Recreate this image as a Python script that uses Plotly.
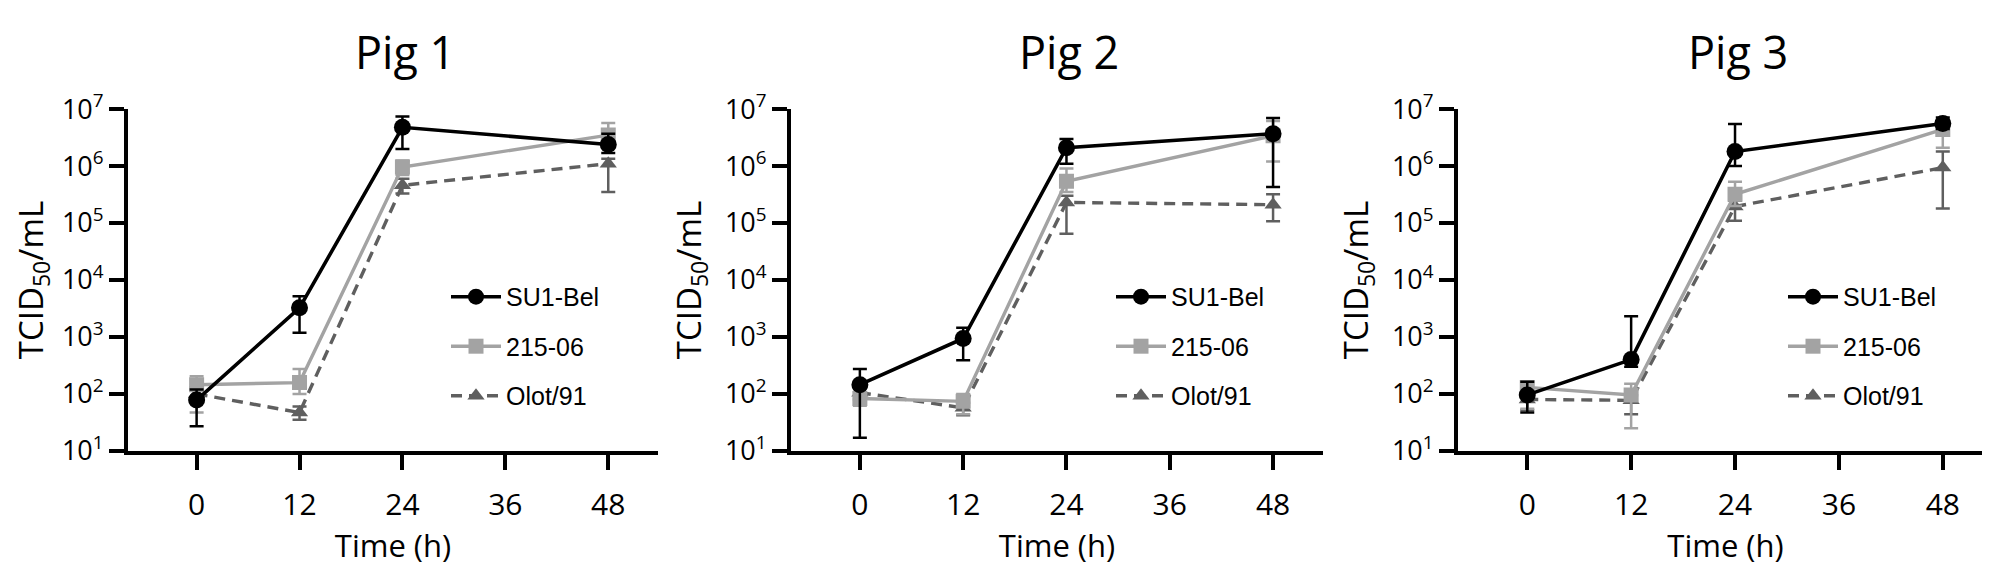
import plotly.graph_objects as go
from plotly.subplots import make_subplots

# sampling times (h)
times = [0, 12, 24, 48]

pigs = ["Pig 1", "Pig 2", "Pig 3"]
strains = ["SU1-Bel", "215-06", "Olot/91"]

# TCID50/mL, mean and error bar ends, per pig
su1_mean = [[78, 3250, 4.8e6, 2.4e6],
            [145, 940, 2.1e6, 3.7e6],
            [96, 400, 1.8e6, 5.6e6]]
su1_hi = [[120, 5200, 7.4e6, 3.7e6],
          [275, 1450, 3.0e6, 7.0e6],
          [163, 2300, 5.5e6, 7.1e6]]
su1_lo = [[27, 1180, 2.0e6, 1.7e6],
          [17, 390, 1.1e6, 4.3e5],
          [47, 300, 1.0e6, 4.5e6]]

s215_mean = [[145, 158, 9.6e5, 3.5e6],
             [83, 74, 5.4e5, 3.4e6],
             [130, 96, 3.2e5, 4.4e6]]
s215_hi = [[205, 275, 1.26e6, 5.7e6],
           [108, 100, 9.1e5, 6.2e6],
           [160, 150, 5.3e5, 6.0e6]]
s215_lo = [[47, 100, 7.0e5, 2.2e6],
           [62, 44, 3.5e5, 1.2e6],
           [55, 25, 2.0e5, 2.1e6]]

olot_mean = [[100, 47, 4.6e5, 1.1e6],
             [105, 57, 2.3e5, 2.1e5],
             [80, 77, 1.95e5, 9.4e5]]
olot_hi = [[130, 60, 6.0e5, 1.35e6],
           [125, 70, 3.0e5, 3.2e5],
           [100, 95, 2.5e5, 1.8e6]]
olot_lo = [[75, 35, 3.3e5, 3.5e5],
           [80, 42, 6.5e4, 1.07e5],
           [52, 44, 1.1e5, 1.8e5]]

ytick_vals = [1e1, 1e2, 1e3, 1e4, 1e5, 1e6, 1e7]
ytick_text = ["10<sup>%d</sup>" % i for i in range(1, 8)]
xtick_vals = [0, 12, 24, 36, 48]

W, H = 1990, 566
# left / right pixel edge of each panel's axes
panel_px = [(120, 650), (783, 1315), (1450, 1985)]
y_top_px, y_bot_px = 85, 452
legend_px = [438, 1103, 1775]

fig = make_subplots(rows=1, cols=3)

styles = {
    "SU1-Bel": dict(color="#000000", symbol="circle", size=17, dash="solid", lw=3.6, rank=1),
    "215-06": dict(color="#a3a3a3", symbol="square", size=15, dash="solid", lw=3.4, rank=2),
    "Olot/91": dict(color="#5f5f5f", symbol="triangle-up", size=15, dash="11px,7px", lw=3.4, rank=3),
}

for p in range(3):
    data = {
        "SU1-Bel": (su1_mean[p], su1_hi[p], su1_lo[p]),
        "215-06": (s215_mean[p], s215_hi[p], s215_lo[p]),
        "Olot/91": (olot_mean[p], olot_hi[p], olot_lo[p]),
    }
    leg = "legend" if p == 0 else "legend%d" % (p + 1)
    # draw dark strain last so it is on top
    for name in ["Olot/91", "215-06", "SU1-Bel"]:
        m, hi, lo = data[name]
        st = styles[name]
        fig.add_trace(
            go.Scatter(
                x=times,
                y=m,
                name=name,
                mode="lines+markers",
                line=dict(color=st["color"], width=st["lw"], dash=st["dash"]),
                marker=dict(color=st["color"], symbol=st["symbol"], size=st["size"]),
                error_y=dict(
                    type="data",
                    symmetric=False,
                    array=[h - v for h, v in zip(hi, m)],
                    arrayminus=[v - l for v, l in zip(m, lo)],
                    color=st["color"],
                    thickness=2.5,
                    width=7,
                ),
                legend=leg,
                legendgroup=name + str(p),
                legendrank=st["rank"],
            ),
            row=1,
            col=p + 1,
        )

    x0, x1 = panel_px[p]
    fig.update_xaxes(
        domain=[x0 / W, x1 / W],
        range=[-8, 53.8],
        tickvals=xtick_vals,
        ticks="outside",
        ticklen=15,
        tickwidth=4,
        tickcolor="black",
        showline=True,
        linewidth=4,
        linecolor="black",
        showgrid=False,
        zeroline=False,
        tickfont=dict(family="Open Sans", size=30, color="black"),
        ticklabelstandoff=9,
        title=dict(text="Time (h)", font=dict(family="Open Sans", size=31, color="black"), standoff=2),
        row=1,
        col=p + 1,
    )
    fig.update_yaxes(
        domain=[(H - y_bot_px) / H, (H - y_top_px) / H],
        type="log",
        range=[1, 7],
        tickvals=ytick_vals,
        ticktext=ytick_text,
        ticks="outside",
        ticklen=15,
        tickwidth=4,
        tickcolor="black",
        showline=True,
        linewidth=4,
        linecolor="black",
        showgrid=False,
        zeroline=False,
        tickfont=dict(family="Open Sans", size=27, color="black"),
        title=dict(text="TCID<sub>50</sub>/mL", font=dict(family="Open Sans", size=33, color="black"), standoff=14),
        row=1,
        col=p + 1,
    )

    fig.add_annotation(
        text=pigs[p],
        x=24.3,
        xref="x" if p == 0 else "x%d" % (p + 1),
        y=(H - 23) / H,
        yref="paper",
        yanchor="middle",
        showarrow=False,
        font=dict(family="Open Sans", size=45, color="black"),
    )

    legend_cfg = dict(
        x=legend_px[p] / W,
        y=(H - 262) / H,
        xanchor="left",
        yanchor="top",
        bgcolor="rgba(0,0,0,0)",
        font=dict(family="Liberation Sans", size=25, color="black"),
        tracegroupgap=14,
        itemwidth=50,
    )
    fig.update_layout({leg: legend_cfg})

fig.update_layout(
    width=W,
    height=H,
    margin=dict(l=0, r=0, t=0, b=0),
    plot_bgcolor="white",
    paper_bgcolor="white",
    showlegend=True,
)

fig.write_html("out.html")
